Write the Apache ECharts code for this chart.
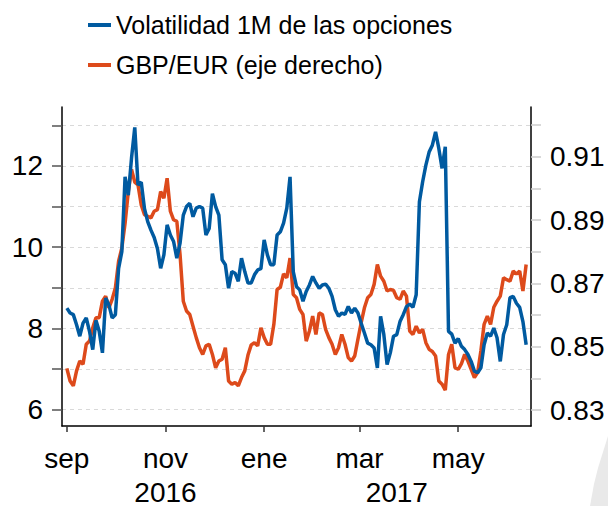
<!DOCTYPE html>
<html>
<head>
<meta charset="utf-8">
<script src="https://cdn.jsdelivr.net/npm/echarts@6/dist/echarts.min.js"></script>
<style>
    html, body { margin: 0; padding: 0; background: #fff; }
    #chart { width: 608px; height: 506px; }
</style>
</head>
<body>
<div id="chart"></div>
<script>

// Data
// ------------------------------

// first observation and spacing between observations (days)
var startDate = [2016, 8, 1];
var stepDays = 2;

// Volatilidad 1M de las opciones (eje izquierdo)
var volatility = [
    8.50, 8.38, 8.34, 8.09, 7.81, 8.13, 8.26, 7.93, 7.48, 8.20,
    7.93, 7.40, 8.75, 8.58, 8.26, 8.34, 9.48, 9.89, 11.73, 11.28,
    12.20, 12.95, 11.53, 11.60, 10.95, 10.63, 10.42, 10.24, 9.97, 9.48,
    9.81, 10.55, 10.30, 10.14, 9.73, 10.10, 10.79, 11.00, 11.08, 10.75,
    10.96, 11.00, 10.96, 10.30, 10.46, 11.32, 11.00, 10.79, 9.69, 9.57,
    8.99, 9.40, 9.36, 9.16, 9.73, 9.40, 9.12, 9.12, 9.32, 9.44,
    9.47, 10.18, 9.81, 9.57, 9.57, 10.30, 10.38, 10.59, 10.96, 11.73,
    9.40, 9.03, 8.95, 8.67, 8.91, 9.07, 9.28, 9.12, 8.99, 9.07,
    9.09, 8.99, 8.79, 8.46, 8.30, 8.38, 8.35, 8.54, 8.38, 8.50,
    8.38, 8.13, 7.89, 7.64, 7.60, 7.52, 7.03, 8.30, 7.85, 7.11,
    7.40, 7.81, 7.85, 8.17, 8.34, 8.54, 8.60, 8.52, 8.83, 11.12,
    11.61, 12.02, 12.34, 12.51, 12.84, 12.43, 11.94, 12.47, 7.93, 7.86,
    7.64, 7.75, 7.56, 7.48, 7.36, 7.19, 6.95, 6.91, 7.03, 7.60,
    7.89, 7.81, 8.01, 7.77, 7.19, 7.85, 8.09, 8.76, 8.79, 8.62,
    8.52, 8.17, 7.60
];

// GBP/EUR (eje derecho)
var gbpEur = [
    0.8432, 0.8392, 0.8377, 0.8424, 0.8455, 0.8445, 0.8508, 0.8518, 0.8560, 0.8592,
    0.8592, 0.8644, 0.8660, 0.8623, 0.8650, 0.8686, 0.8770, 0.8812, 0.8890, 0.8990,
    0.9060, 0.9020, 0.9011, 0.8948, 0.8917, 0.8912, 0.8907, 0.8928, 0.8933, 0.8990,
    0.8969, 0.9032, 0.8928, 0.8901, 0.8896, 0.8791, 0.8644, 0.8613, 0.8602, 0.8565,
    0.8529, 0.8497, 0.8476, 0.8503, 0.8508, 0.8476, 0.8434, 0.8455, 0.8461, 0.8497,
    0.8392, 0.8382, 0.8387, 0.8377, 0.8403, 0.8424, 0.8474, 0.8506, 0.8513, 0.8503,
    0.8560, 0.8529, 0.8508, 0.8508, 0.8571, 0.8681, 0.8688, 0.8730, 0.8718, 0.8780,
    0.8665, 0.8655, 0.8618, 0.8602, 0.8518, 0.8550, 0.8597, 0.8539, 0.8607, 0.8602,
    0.8555, 0.8529, 0.8508, 0.8476, 0.8497, 0.8539, 0.8508, 0.8466, 0.8455, 0.8471,
    0.8524, 0.8576, 0.8623, 0.8655, 0.8665, 0.8697, 0.8760, 0.8723, 0.8707, 0.8676,
    0.8681, 0.8678, 0.8655, 0.8650, 0.8676, 0.8660, 0.8550, 0.8539, 0.8565, 0.8544,
    0.8555, 0.8513, 0.8492, 0.8485, 0.8471, 0.8392, 0.8382, 0.8363, 0.8476, 0.8508,
    0.8434, 0.8429, 0.8447, 0.8476, 0.8455, 0.8429, 0.8403, 0.8419, 0.8487, 0.8571,
    0.8597, 0.8571, 0.8625, 0.8644, 0.8660, 0.8718, 0.8712, 0.8707, 0.8739, 0.8730,
    0.8739, 0.8676, 0.8760
];

// Axis ticks and labels
var leftTicks = [6, 7, 8, 9, 10, 11, 12, 13];
var leftLabels = [6, 8, 10, 12];
var rightTicks = [0.83, 0.84, 0.85, 0.86, 0.87, 0.88, 0.89, 0.90, 0.91, 0.92];
var rightLabels = [0.83, 0.85, 0.87, 0.89, 0.91];
var monthTicks = [[2016, 8, 1], [2016, 10, 1], [2017, 0, 1], [2017, 2, 1], [2017, 4, 1]];
var monthNames = ['ene', 'feb', 'mar', 'abr', 'may', 'jun', 'jul', 'ago', 'sep', 'oct', 'nov', 'dic'];
var yearLabels = [[2016, 10, 1], [2017, 2, 24]];

var legendNames = ['Volatilidad 1M de las opciones', 'GBP/EUR (eje derecho)'];


// Helpers
// ------------------------------

var DAY = 86400000;
var toTime = function(d) {
    return new Date(d[0], d[1], d[2]).getTime();
};
var t0 = toTime(startDate);
var withDates = function(values) {
    return values.map(function(v, i) {
        return [t0 + i * stepDays * DAY, v];
    });
};

var fontFamily = '"Liberation Sans", Arial, sans-serif';
var blue = '#005AA0';
var orange = '#DD4A1B';
var xMin = t0 - 3 * DAY;
var xMax = toTime([2017, 5, 15]);


// Chart
// ------------------------------

var chart = echarts.init(document.getElementById('chart'), null, { renderer: 'svg' });

chart.setOption({
    animation: false,
    backgroundColor: '#fff',
    textStyle: { fontFamily: fontFamily },

    // grey corner of the logo, bottom right
    graphic: [{
        type: 'polygon',
        silent: true,
        z: -1,
        shape: { points: [[608, 436], [603, 452], [598, 468], [594, 484], [590, 506], [608, 506]] },
        style: { fill: '#e9e9e9' }
    }],

    legend: {
        orient: 'vertical',
        left: 88,
        top: 10,
        padding: 0,
        itemWidth: 23,
        itemHeight: 4,
        itemGap: 10,
        icon: 'rect',
        data: legendNames,
        textStyle: { fontFamily: fontFamily, fontSize: 25, color: '#000', lineHeight: 30 }
    },

    grid: { left: 62, right: 77, top: 107, bottom: 79 },

    xAxis: [
        {
            // dates as timestamps on a plain value axis
            type: 'value',
            position: 'bottom',
            min: xMin,
            max: xMax,
            axisLine: { lineStyle: { color: '#000', width: 1.5 } },
            axisTick: {
                customValues: monthTicks.map(toTime),
                length: 6,
                lineStyle: { color: '#333', width: 1.5 }
            },
            axisLabel: {
                customValues: monthTicks.map(toTime),
                margin: 18,
                fontSize: 28,
                color: '#000',
                fontFamily: fontFamily,
                formatter: function(val) {
                    return monthNames[new Date(val).getMonth()];
                }
            },
            splitLine: { show: false }
        },
        {
            type: 'value',
            position: 'bottom',
            min: xMin,
            max: xMax,
            axisLine: { show: false },
            axisTick: { show: false },
            axisLabel: {
                customValues: yearLabels.map(toTime),
                margin: 52,
                fontSize: 28,
                color: '#000',
                fontFamily: fontFamily,
                formatter: function(val) {
                    return String(new Date(val).getFullYear());
                }
            },
            splitLine: { show: false }
        }
    ],

    yAxis: [
        {
            type: 'value',
            position: 'left',
            min: 5.6,
            max: 13.45,
            axisLine: { show: true, lineStyle: { color: '#000', width: 1.5 } },
            axisTick: {
                show: true,
                customValues: leftTicks,
                length: 10,
                lineStyle: { color: '#555', width: 1.5 }
            },
            axisLabel: {
                customValues: leftLabels,
                margin: 19,
                fontSize: 28,
                color: '#000',
                fontFamily: fontFamily
            },
            splitLine: {
                show: true,
                lineStyle: { color: '#d9d9d9', type: [4, 4], width: 1 }
            }
        },
        {
            type: 'value',
            position: 'right',
            min: 0.825,
            max: 0.9257,
            axisLine: { show: true, lineStyle: { color: '#000', width: 1.5 } },
            axisTick: {
                show: true,
                customValues: rightTicks,
                length: 10,
                lineStyle: { color: '#ccc', width: 1.5 }
            },
            axisLabel: {
                customValues: rightLabels,
                margin: 19,
                fontSize: 28,
                color: '#000',
                fontFamily: fontFamily,
                formatter: function(val) {
                    return val.toFixed(2);
                }
            },
            splitLine: { show: false }
        }
    ],

    series: [
        {
            name: legendNames[0],
            type: 'line',
            yAxisIndex: 0,
            showSymbol: false,
            symbol: 'none',
            z: 3,
            lineStyle: { color: blue, width: 3.5 },
            itemStyle: { color: blue },
            data: withDates(volatility)
        },
        {
            name: legendNames[1],
            type: 'line',
            yAxisIndex: 1,
            showSymbol: false,
            symbol: 'none',
            z: 2,
            lineStyle: { color: orange, width: 3.5 },
            itemStyle: { color: orange },
            data: withDates(gbpEur)
        }
    ]
});

</script>
</body>
</html>
